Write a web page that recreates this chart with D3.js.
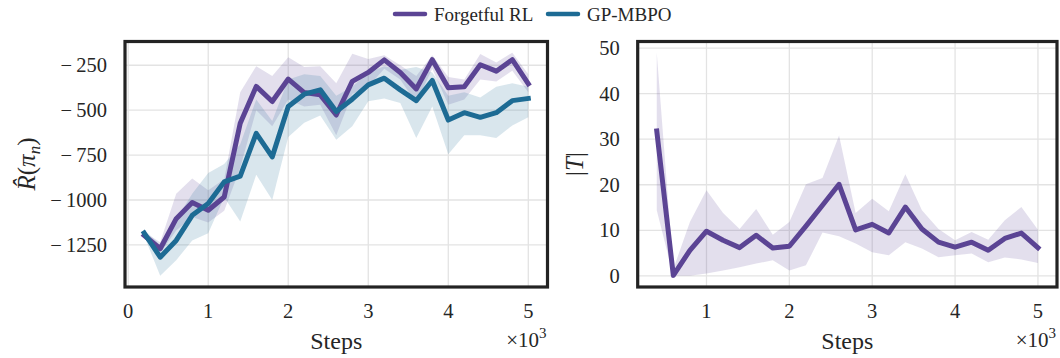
<!DOCTYPE html>
<html>
<head>
<meta charset="utf-8">
<script src="https://cdn.jsdelivr.net/npm/d3@7"></script>
<style>
  html, body { margin: 0; padding: 0; background: #ffffff; }
  svg { display: block; }
  text { font-family: "Liberation Serif", "Times New Roman", serif; fill: #262626; }
</style>
</head>
<body>
<svg id="fig" width="1060" height="358"></svg>
<script>
// ---- Return curve (left panel) ----
const stepsR = [200, 400, 600, 800, 1000, 1200, 1400, 1600, 1800, 2000, 2200, 2400, 2600,
                2800, 3000, 3200, 3400, 3600, 3800, 4000, 4200, 4400, 4600, 4800, 5000];
const forgetfulMean = [-1197, -1271, -1104, -1014, -1057, -983, -573, -368, -452, -327, -402, -415, -527,
                       -340, -290, -220, -290, -382, -219, -375, -370, -247, -283, -219, -353];
const forgetfulHi   = [-1180, -1235, -965, -880, -945, -885, -400, -255, -310, -205, -260, -255, -350,
                       -186, -215, -195, -250, -310, -195, -315, -330, -188, -235, -180, -300];
const forgetfulLo   = [-1215, -1295, -1170, -1095, -1125, -1060, -820, -500, -590, -440, -480, -470, -640,
                       -410, -370, -270, -330, -460, -270, -470, -440, -330, -340, -280, -400];
const gpMean = [-1184, -1318, -1225, -1085, -1020, -899, -867, -629, -760, -480, -411, -387, -508,
                -439, -359, -322, -387, -447, -335, -555, -514, -540, -514, -447, -435];
const gpHi   = [-1165, -1250, -1110, -965, -850, -800, -690, -440, -560, -330, -300, -310, -420,
                -370, -290, -255, -275, -260, -290, -420, -400, -430, -370, -350, -370];
const gpLo   = [-1200, -1422, -1335, -1225, -1185, -985, -1120, -860, -1000, -650, -570, -530, -665,
                -590, -450, -435, -460, -655, -480, -745, -640, -640, -655, -585, -540];

// ---- Memory size (right panel) ----
const stepsT = [400, 600, 800, 1000, 1200, 1400, 1600, 1800, 2000, 2200, 2400, 2600,
                2800, 3000, 3200, 3400, 3600, 3800, 4000, 4200, 4400, 4600, 4800, 5000];
const sizeMean = [31.8, 0.1, 5.6, 9.8, 7.8, 6.2, 8.9, 6.1, 6.5, 10.9, 15.5, 20.1,
                  10.1, 11.3, 9.4, 15.1, 10.3, 7.4, 6.3, 7.4, 5.6, 8.2, 9.4, 6.2];
const sizeHi   = [49.0, 1.5, 11.8, 18.8, 13.8, 10.3, 14.7, 9.0, 11.8, 20.1, 21.5, 30.8,
                  13.8, 16.9, 14.2, 22.3, 14.4, 10.3, 7.8, 9.6, 7.9, 12.2, 15.1, 10.1];
const sizeLo   = [14.4, 0.0, 0.0, 0.5, 1.2, 1.9, 2.7, 3.4, 1.2, 2.3, 9.5, 8.7,
                  7.1, 5.2, 4.5, 7.4, 6.0, 4.1, 4.5, 4.9, 3.0, 4.0, 3.6, 2.8];

// ---- Ticks and labels ----
const xTicks = [0, 1000, 2000, 3000, 4000, 5000];
const yTicksR = [-1250, -1000, -750, -500, -250];
const yTicksT = [0, 10, 20, 30, 40, 50];
const seriesNames = ["Forgetful RL", "GP-MBPO"];
const colors = { forgetful: "#5b4494", gp: "#1d6b94" };

const svg = d3.select("#fig");

// domain with 5% padding on each side
function padded(values) {
  const lo = d3.min(values), hi = d3.max(values), m = (hi - lo) * 0.05;
  return [lo - m, hi + m];
}

function panel(opts) {
  const { x0, x1, y0, y1, xs, series, yTicks, yFmt } = opts;
  const x = d3.scaleLinear().domain(padded(xs)).range([x0, x1]);
  const allY = series.flatMap(s => s.lo.concat(s.hi));
  const y = d3.scaleLinear().domain(padded(allY)).range([y1, y0]);
  const g = svg.append("g");

  // grid
  const xt = xTicks.filter(t => t >= x.domain()[0] && t <= x.domain()[1]);
  g.append("g").selectAll("line").data(xt).join("line")
    .attr("x1", d => x(d)).attr("x2", d => x(d)).attr("y1", y0).attr("y2", y1)
    .attr("stroke", "#e3e3e3").attr("stroke-width", 1.3);
  g.append("g").selectAll("line").data(yTicks).join("line")
    .attr("y1", d => y(d)).attr("y2", d => y(d)).attr("x1", x0).attr("x2", x1)
    .attr("stroke", "#e3e3e3").attr("stroke-width", 1.3);

  const clipId = "clip" + Math.round(x0);
  svg.append("clipPath").attr("id", clipId).append("rect")
    .attr("x", x0).attr("y", y0).attr("width", x1 - x0).attr("height", y1 - y0);
  const plot = g.append("g").attr("clip-path", `url(#${clipId})`);

  // bands
  series.forEach(s => {
    const area = d3.area().x((d, i) => x(xs[i])).y0((d, i) => y(s.lo[i])).y1((d, i) => y(s.hi[i]));
    plot.append("path").datum(xs).attr("d", area)
      .attr("fill", s.color).attr("fill-opacity", 0.17).attr("stroke", "none");
  });
  // mean lines
  series.forEach(s => {
    const line = d3.line().x((d, i) => x(xs[i])).y((d, i) => y(s.mean[i]));
    plot.append("path").datum(xs).attr("d", line)
      .attr("fill", "none").attr("stroke", s.color).attr("stroke-width", 5)
      .attr("stroke-linejoin", "round").attr("stroke-linecap", "square");
  });

  // frame
  g.append("rect").attr("x", x0).attr("y", y0).attr("width", x1 - x0).attr("height", y1 - y0)
    .attr("fill", "none").attr("stroke", "#232323").attr("stroke-width", 3.2);

  // tick labels
  g.append("g").selectAll("text").data(xt).join("text")
    .attr("x", d => x(d)).attr("y", y1 + 31).attr("text-anchor", "middle")
    .attr("font-size", 20.5).text(d => d / 1000);
  g.append("g").selectAll("text").data(yTicks).join("text")
    .attr("x", x0 - 18).attr("y", d => y(d) + 7).attr("text-anchor", "end")
    .attr("font-size", 20.5).text(yFmt);

  // x label and offset text
  g.append("text").attr("x", (x0 + x1) / 2).attr("y", y1 + 62).attr("text-anchor", "middle")
    .attr("font-size", 24).text("Steps");
  const off = g.append("text").attr("x", x1 - 1).attr("y", y1 + 60).attr("text-anchor", "end")
    .attr("font-size", 21);
  off.append("tspan").text("\u00d710");
  off.append("tspan").attr("font-size", 15).attr("dy", -9).text("3");
  return { x, y };
}

panel({
  x0: 125, x1: 547.5, y0: 41.5, y1: 287, xs: stepsR,
  series: [
    { mean: forgetfulMean, lo: forgetfulLo, hi: forgetfulHi, color: colors.forgetful },
    { mean: gpMean, lo: gpLo, hi: gpHi, color: colors.gp }
  ],
  yTicks: yTicksR,
  yFmt: d => "\u2212\u2009" + Math.abs(d)
});

panel({
  x0: 637.7, x1: 1057, y0: 41.5, y1: 287, xs: stepsT,
  series: [{ mean: sizeMean, lo: sizeLo, hi: sizeHi, color: colors.forgetful }],
  yTicks: yTicksT,
  yFmt: d => String(d)
});

// y-axis labels
const yl = svg.append("text").attr("transform", "translate(35,164) rotate(-90)")
  .attr("text-anchor", "middle").attr("font-size", 25);
yl.append("tspan").attr("font-style", "italic").text("R\u0302");
yl.append("tspan").text("(");
yl.append("tspan").attr("font-style", "italic").text("\u03c0");
yl.append("tspan").attr("font-style", "italic").attr("font-size", 17).attr("dy", 5).text("n");
yl.append("tspan").attr("dy", -5).text(")");

const yr = svg.append("text").attr("transform", "translate(583,164) rotate(-90)")
  .attr("text-anchor", "middle").attr("font-size", 25);
yr.append("tspan").text("|");
yr.append("tspan").attr("font-style", "italic").text("T");
yr.append("tspan").text("|");

// legend
const legend = svg.append("g");
const legendItems = [
  { name: seriesNames[0], color: colors.forgetful, x: 395 },
  { name: seriesNames[1], color: colors.gp, x: 548 }
];
legendItems.forEach(it => {
  legend.append("line").attr("x1", it.x).attr("x2", it.x + 30).attr("y1", 14).attr("y2", 14)
    .attr("stroke", it.color).attr("stroke-width", 4.5).attr("stroke-linecap", "round");
  legend.append("text").attr("x", it.x + 39).attr("y", 21).attr("font-size", 19).text(it.name);
});
</script>
</body>
</html>
